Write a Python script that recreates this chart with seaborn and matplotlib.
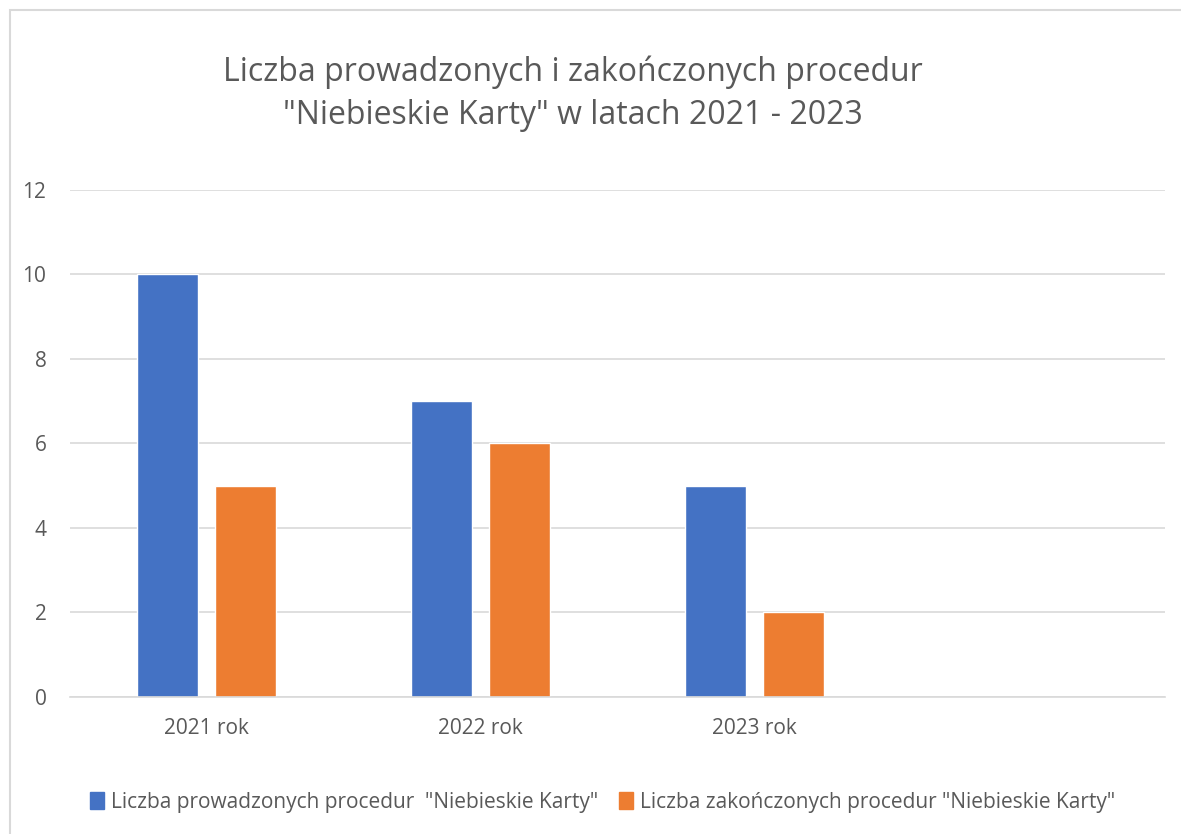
import matplotlib.pyplot as plt
import matplotlib.patches as mpatches
import pandas as pd
import seaborn as sns

years = ['2021 rok', '2022 rok', '2023 rok', ' ']
prowadzone = [10, 7, 5]
zakonczone = [5, 6, 2]
series_names = ['Liczba prowadzonych procedur  "Niebieskie Karty"',
                'Liczba zakończonych procedur "Niebieskie Karty"']
_COLORS = ['#4472c4', '#ed7d31']

data = pd.DataFrame({
    'rok': years[:3] * 2,
    'value': prowadzone + zakonczone,
    'Seria': [series_names[0]] * 3 + [series_names[1]] * 3,
})

sns.set_style('white')
plt.rcParams['font.family'] = ['Open Sans', 'DejaVu Sans']

fig = plt.figure(figsize=(11.81, 8.34), dpi=100)
ax = fig.add_axes([0.0593, 0.1643, 0.9272, 0.6079])

sns.barplot(data, x='rok', y='value', hue='Seria', order=years,
            palette=_COLORS, width=0.57, gap=0.22, saturation=1, ax=ax)

ax.set_ylim(0, 12)
ax.set_xlim(-0.5, 3.5)
ax.set_yticks(range(0, 13, 2))
ax.yaxis.grid(True, color='#d9d9d9', linewidth=1.2)
ax.set_axisbelow(True)
for s in ['top', 'right', 'left']:
    ax.spines[s].set_visible(False)
ax.spines['bottom'].set_color('#d9d9d9')
ax.spines['bottom'].set_linewidth(1.2)
ax.tick_params(axis='both', length=0, labelsize=15, colors='#595959')
ax.tick_params(axis='y', pad=17)
ax.tick_params(axis='x', pad=15)
ax.set_xlabel('')
ax.set_ylabel('')

fig.text(0.485, 0.888, 'Liczba prowadzonych i zakończonych procedur\n"Niebieskie Karty" w latach 2021 - 2023',
         ha='center', va='center', fontsize=23, color='#595959', linespacing=1.4)

handles = [mpatches.Patch(color=c) for c in _COLORS]
fig.legend(handles, series_names, loc='center', bbox_to_anchor=(0.51, 0.038), ncol=2,
           frameon=False, fontsize=15, labelcolor='#595959', handlelength=0.7,
           handleheight=0.9, handletextpad=0.3, columnspacing=1.0)
ax.get_legend().remove()

fig.patches.append(mpatches.Rectangle((0.0085, -0.1), 2, 1.0885, transform=fig.transFigure,
                                      fill=False, edgecolor='#d9d9d9', linewidth=1.5))

fig.savefig('out.png')
